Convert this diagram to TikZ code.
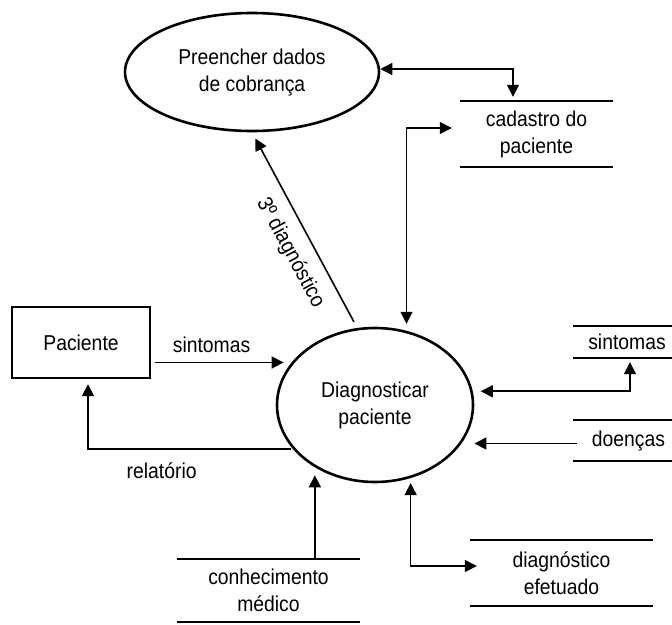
\documentclass[tikz,border=0pt]{standalone}
\usepackage{fontspec}
\setmainfont{Liberation Sans}[FakeStretch=0.9]
\usetikzlibrary{arrows.meta,shapes.geometric}
\begin{document}
\begin{tikzpicture}[x=1pt,y=-1pt,
  every node/.style={font=\fontsize{21.5}{27}\selectfont, align=center},
  proc/.style={draw, ellipse, line width=2.6pt, inner sep=0pt},
  ent/.style={draw, rectangle, line width=2.4pt, minimum width=138pt, minimum height=71pt},
  store/.style={inner sep=0pt},
  sline/.style={line width=2.5pt},
  tip/.tip={Triangle[length=12pt,width=12pt]},
  flow/.style={line width=1.6pt, -tip},
  bflow/.style={line width=1.6pt, tip-tip},
  lbl/.style={font=\fontsize{21.5}{24}\selectfont}
]
\useasboundingbox (0,0) rectangle (672,624);

% processes and entity
\node[proc, minimum width=254pt, minimum height=118pt] (pre) at (252,72) {Preencher dados\\de cobrança};
\node[proc, minimum width=196pt, minimum height=154pt] (dia) at (375,405) {Diagnosticar\\paciente};
\node[ent] (pac) at (81,342.5) {Paciente};

% data stores
\node[store, minimum width=153pt, minimum height=66pt] (cad) at (536.5,134) {cadastro do\\paciente};
\node[store, minimum width=108pt, minimum height=32pt] (sin) at (627,342) {sintomas};
\node[store, minimum width=111pt, minimum height=41pt] (doe) at (628.5,440.5) {doenças};
\node[store, minimum width=183pt, minimum height=63pt] (con) at (268.5,590.5) {conhecimento\\médico};
\node[store, minimum width=183pt, minimum height=66pt] (def) at (561.5,573) {diagnóstico\\efetuado};

\foreach \s in {cad,sin,doe,con,def}{
  \draw[sline] (\s.north west) -- (\s.north east) (\s.south west) -- (\s.south east);
}

% flows
\draw[bflow, shorten >=4pt] ([yshift=3pt]pre.east) -| ([xshift=-23.5pt]cad.north);
\draw[bflow, shorten <=7pt, shorten >=8pt] (dia.67) |- ([yshift=6pt]cad.west);
\draw[flow, shorten <=7pt, shorten >=7pt] (dia.103) -- node[pos=0.44, sloped, below=9pt, lbl] {3º diagnóstico} (pre.south);
\draw[flow, shorten <=4pt, shorten >=8pt] (dia.153 -| pac.east) -- node[pos=0.43, above=6pt, lbl] {sintomas} (dia.153);
\draw[flow, shorten <=2pt, shorten >=5pt] (dia.208) -| node[pos=0.32, below=10pt, lbl] {relatório} ([xshift=7pt]pac.south);
\draw[bflow, shorten <=8pt, shorten >=4pt] (dia.8.3) -| ([xshift=3pt]sin.south);
\draw[flow, shorten <=-4pt, shorten >=13pt] (dia.-24 -| doe.west) -- (dia.-24);
\draw[flow, shorten >=8pt] (dia.226.2 |- con.north) -- (dia.226.2);
\draw[bflow, shorten <=5pt, shorten >=-7pt] (dia.-64) |- ([yshift=7pt]def.west);
\end{tikzpicture}
\end{document}
